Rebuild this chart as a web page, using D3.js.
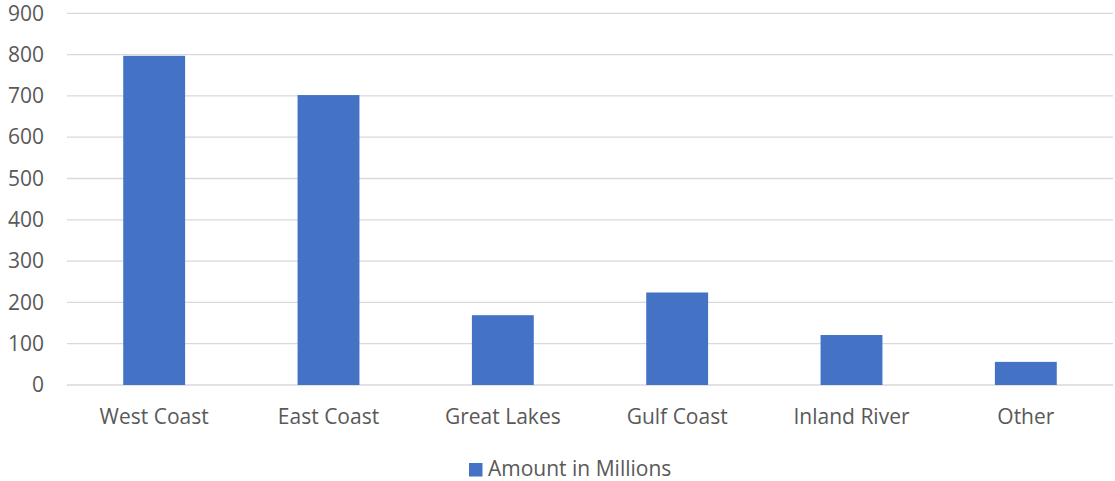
<!DOCTYPE html>
<html>
<head>
<meta charset="utf-8">
<script src="https://cdn.jsdelivr.net/npm/d3@7"></script>
<style>
  body { margin: 0; background: #fff; }
  text { font-family: "Open Sans", sans-serif; fill: #595959; }
</style>
</head>
<body>
<svg width="1115" height="481"></svg>
<script>
var categories = ["West Coast", "East Coast", "Great Lakes", "Gulf Coast", "Inland River", "Other"];
var amounts = [797, 702, 169, 224, 121, 56];
var yTicks = [0, 100, 200, 300, 400, 500, 600, 700, 800, 900];
var seriesName = "Amount in Millions";

var svg = d3.select("svg"),
    width = +svg.attr("width"),
    height = +svg.attr("height");

var plotLeft = 67, plotRight = 1113, plotTop = 13.3, plotBottom = 385;
var fontSize = 21;

var x = d3.scaleBand()
    .domain(categories)
    .range([plotLeft, plotRight])
    .paddingInner(0.645)
    .paddingOuter(0.3225);

var y = d3.scaleLinear()
    .domain([0, 900])
    .range([plotBottom, plotTop]);

// gridlines
svg.append("g")
    .selectAll("line")
    .data(yTicks)
    .enter().append("line")
    .attr("x1", plotLeft)
    .attr("x2", plotRight)
    .attr("y1", function (d) { return y(d); })
    .attr("y2", function (d) { return y(d); })
    .attr("stroke", "#d9d9d9")
    .attr("stroke-width", 1.3);

// y labels
var yAxis = svg.append("g")
    .attr("transform", "translate(44,0)")
    .call(d3.axisLeft(y).tickValues(yTicks).tickSize(0).tickPadding(0));
yAxis.select(".domain").remove();
yAxis.selectAll("text")
    .attr("font-size", fontSize)
    .attr("font-family", "Open Sans, sans-serif")
    .attr("fill", "#595959");

// bars
svg.append("g")
    .selectAll("rect")
    .data(amounts)
    .enter().append("rect")
    .attr("x", function (d, i) { return x(categories[i]); })
    .attr("y", function (d) { return y(d); })
    .attr("width", x.bandwidth())
    .attr("height", function (d) { return y(0) - y(d); })
    .attr("fill", "#4472c4");

// x labels
var xAxis = svg.append("g")
    .attr("transform", "translate(0," + plotBottom + ")")
    .call(d3.axisBottom(x).tickSize(0).tickPadding(24));
xAxis.select(".domain").remove();
xAxis.selectAll("text")
    .attr("font-size", fontSize)
    .attr("font-family", "Open Sans, sans-serif")
    .attr("fill", "#595959");

// legend
var legend = svg.append("g").attr("transform", "translate(469,463)");
legend.append("rect")
    .attr("width", 13.5)
    .attr("height", 13.5)
    .attr("fill", "#4472c4");
legend.append("text")
    .attr("x", 19)
    .attr("y", 13)
    .attr("font-size", fontSize)
    .text(seriesName);
</script>
</body>
</html>
